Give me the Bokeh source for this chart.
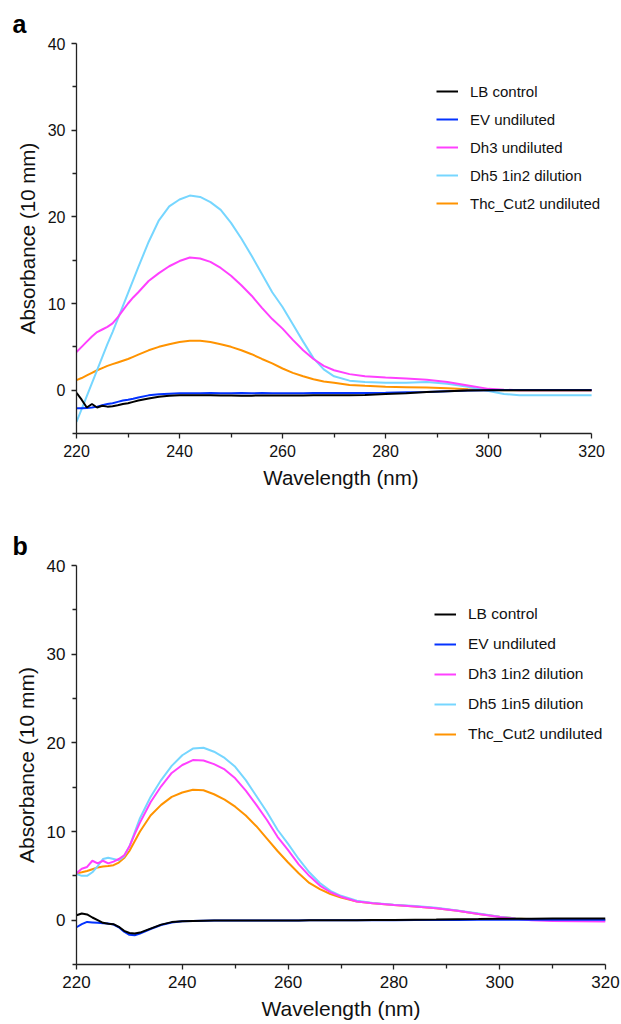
from bokeh.plotting import figure
from bokeh.models import (ColumnDataSource, Range1d, FixedTicker, Legend, LegendItem)
from bokeh.layouts import column
from bokeh.embed import file_html
from bokeh.resources import INLINE

# ---------------- data ----------------
wavelength = [220, 221, 222, 223, 224, 225, 226, 227, 228, 229, 230, 231, 232,
              234, 236, 238, 240, 242, 244, 246, 248, 250, 252, 254, 256, 258, 260,
              262, 264, 266, 268, 270,
              273, 276, 280, 284, 288, 292, 296, 300, 303, 306, 310, 315, 320]

# panel a
a_lb_control = [-0.3, -1.1, -2.0, -1.6, -2.0, -1.8, -1.9, -1.85, -1.75, -1.6, -1.5, -1.35, -1.2,
                -0.95, -0.75, -0.65, -0.6, -0.6, -0.6, -0.6, -0.62, -0.62, -0.63, -0.63, -0.62, -0.62, -0.62,
                -0.62, -0.62, -0.6, -0.6, -0.6,
                -0.58, -0.55, -0.45, -0.35, -0.22, -0.12, -0.05, 0.0, 0.0, 0.0, 0.0, 0.0, 0.0]
a_ev = [-2.1, -2.1, -2.05, -2.0, -1.9, -1.75, -1.6, -1.5, -1.35, -1.2, -1.1, -0.98, -0.85,
        -0.6, -0.48, -0.4, -0.37, -0.35, -0.35, -0.34, -0.35, -0.35, -0.34, -0.35, -0.34, -0.35, -0.35,
        -0.35, -0.35, -0.34, -0.34, -0.34,
        -0.33, -0.33, -0.3, -0.25, -0.2, -0.12, -0.05, 0.0, 0.02, 0.02, 0.02, 0.02, 0.02]
a_dh3 = [4.4, 5.0, 5.6, 6.2, 6.7, 7.0, 7.3, 7.7, 8.4, 9.2, 10.0, 10.7, 11.3,
         12.6, 13.5, 14.3, 14.9, 15.3, 15.2, 14.8, 14.1, 13.2, 12.1, 10.9, 9.5, 8.2, 7.1,
         5.8, 4.6, 3.6, 2.8, 2.3,
         1.85, 1.6, 1.45, 1.35, 1.2, 0.95, 0.55, 0.15, 0.05, 0.0, -0.02, -0.02, -0.02]
a_dh5 = [-3.65, -2.2, -0.7, 0.8, 2.3, 3.8, 5.3, 6.7, 8.2, 9.7, 11.2, 12.7, 14.2,
         17.1, 19.6, 21.2, 22.0, 22.45, 22.3, 21.7, 20.8, 19.3, 17.5, 15.5, 13.4, 11.3, 9.6,
         7.6, 5.6, 3.7, 2.4, 1.6,
         1.1, 0.95, 0.85, 0.85, 0.95, 0.75, 0.4, -0.1, -0.45, -0.58, -0.6, -0.6, -0.6]
a_thc = [1.15, 1.4, 1.7, 2.0, 2.3, 2.55, 2.8, 3.0, 3.2, 3.4, 3.6, 3.85, 4.1,
         4.6, 5.0, 5.3, 5.55, 5.7, 5.7, 5.55, 5.3, 5.0, 4.6, 4.15, 3.6, 3.1, 2.5,
         2.0, 1.6, 1.25, 1.0, 0.85,
         0.6, 0.5, 0.4, 0.35, 0.3, 0.22, 0.12, 0.05, 0.0, 0.0, 0.0, 0.0, 0.0]

# panel b
b_lb_control = [0.55, 0.75, 0.65, 0.3, 0.0, -0.3, -0.4, -0.45, -0.75, -1.2, -1.45, -1.5, -1.4,
                -0.95, -0.5, -0.22, -0.12, -0.08, -0.06, -0.05, -0.05, -0.05, -0.05, -0.04, -0.04, -0.04, -0.03,
                -0.03, -0.02, -0.02, -0.01, 0.0,
                0.0, 0.02, 0.03, 0.05, 0.07, 0.1, 0.12, 0.15, 0.16, 0.17, 0.18, 0.18, 0.18]
b_ev = [-0.8, -0.45, -0.2, -0.25, -0.3, -0.35, -0.38, -0.5, -0.8, -1.3, -1.65, -1.7, -1.5,
        -1.0, -0.55, -0.26, -0.12, -0.08, -0.06, -0.05, -0.05, -0.05, -0.05, -0.04, -0.04, -0.04, -0.03,
        -0.03, -0.02, -0.02, -0.02, -0.01,
        -0.01, 0.0, 0.0, 0.01, 0.02, 0.03, 0.04, 0.05, 0.05, 0.05, 0.05, 0.05, 0.05]
b_dh3 = [5.3, 5.8, 6.0, 6.7, 6.4, 6.7, 6.4, 6.6, 6.9, 7.3, 8.3, 9.7, 11.0,
         13.3, 15.1, 16.6, 17.5, 18.05, 18.0, 17.6, 17.0, 16.0, 14.6, 13.0, 11.3, 9.4, 7.9,
         6.3, 5.0, 3.9, 3.15, 2.65,
         2.1, 1.9, 1.7, 1.55, 1.35, 1.05, 0.7, 0.35, 0.15, 0.0, -0.1, -0.12, -0.15]
b_dh5 = [5.2, 5.0, 5.0, 5.4, 6.1, 6.9, 7.05, 6.9, 6.75, 7.2, 8.3, 9.9, 11.5,
         13.9, 15.8, 17.4, 18.6, 19.35, 19.45, 19.0, 18.3, 17.3, 15.8, 14.0, 12.2, 10.2, 8.6,
         6.9, 5.4, 4.2, 3.3, 2.75,
         2.2, 1.95, 1.75, 1.6, 1.4, 1.1, 0.75, 0.4, 0.2, 0.08, 0.0, -0.03, -0.04]
b_thc = [5.3, 5.4, 5.55, 5.75, 5.95, 6.05, 6.1, 6.2, 6.5, 7.0, 7.8, 8.9, 10.0,
         11.8, 13.0, 13.9, 14.4, 14.7, 14.65, 14.2, 13.6, 12.8, 11.8, 10.6, 9.2, 7.8, 6.5,
         5.3, 4.2, 3.5, 2.95, 2.55,
         2.1, 1.9, 1.7, 1.55, 1.35, 1.05, 0.7, 0.4, 0.2, 0.1, 0.02, 0.0, 0.0]

labels_a = ["LB control", "EV undiluted", "Dh3 undiluted", "Dh5 1in2 dilution", "Thc_Cut2 undiluted"]
labels_b = ["LB control", "EV undiluted", "Dh3 1in2 dilution", "Dh5 1in5 dilution", "Thc_Cut2 undiluted"]
colors = ["#000000", "#0433FF", "#FF40FF", "#76D6FF", "#FF9300"]

x_major = [220, 240, 260, 280, 300, 320]
x_minor = [230, 250, 270, 290, 310]
y_major = [0, 10, 20, 30, 40]
y_minor = [-5, 5, 15, 25, 35]

FONT = "Liberation Sans"


def make_panel(letter, series, labels, width, height, mb, x_end, tick_fs, title_fs, legend_fs,
               legend_loc, legend_spacing):
    left, right, top, bottom = mb
    p = figure(width=width, height=height, output_backend="svg", toolbar_location=None,
               x_range=Range1d(220, x_end), y_range=Range1d(-5, 40),
               min_border_left=left, min_border_right=right,
               min_border_top=top, min_border_bottom=bottom)
    p.outline_line_color = None
    p.xgrid.visible = False
    p.ygrid.visible = False
    p.background_fill_color = "white"
    p.border_fill_color = "white"

    p.title.text = letter
    p.title.align = "left"
    p.title.offset = -64
    p.title.standoff = 12
    p.title.text_font = FONT
    p.title.text_font_size = "25px"
    p.title.text_font_style = "bold"
    p.title.text_color = "#000000"

    p.xaxis.ticker = FixedTicker(ticks=x_major, minor_ticks=x_minor)
    p.yaxis.ticker = FixedTicker(ticks=y_major, minor_ticks=y_minor)
    p.xaxis.bounds = (220, 320)
    for ax in (p.xaxis, p.yaxis):
        ax.axis_line_color = "#222222"
        ax.axis_line_width = 1.3
        ax.major_tick_line_color = "#222222"
        ax.minor_tick_line_color = "#222222"
        ax.major_tick_line_width = 1.3
        ax.minor_tick_line_width = 1.3
        ax.major_tick_out = 5
        ax.major_tick_in = 0
        ax.minor_tick_out = 4
        ax.minor_tick_in = 0
        ax.major_label_text_font = FONT
        ax.major_label_text_font_size = f"{tick_fs}px"
        ax.major_label_text_color = "#111111"
        ax.axis_label_text_font = FONT
        ax.axis_label_text_font_size = f"{title_fs}px"
        ax.axis_label_text_font_style = "normal"
        ax.axis_label_text_color = "#111111"
    p.xaxis.axis_label = "Wavelength (nm)"
    p.yaxis.axis_label = "Absorbance (10 mm)"
    p.xaxis.major_label_standoff = 6
    p.yaxis.major_label_standoff = 6
    p.xaxis.axis_label_standoff = 6
    p.yaxis.axis_label_standoff = 6

    src = ColumnDataSource(dict(x=wavelength, s0=series[0], s1=series[1], s2=series[2],
                                s3=series[3], s4=series[4]))
    rends = {}
    for i in [4, 3, 2, 1, 0]:
        rends[i] = p.line("x", f"s{i}", source=src, line_color=colors[i], line_width=2)

    items = [LegendItem(label=labels[i], renderers=[rends[i]]) for i in range(5)]
    legend = Legend(items=items, location=legend_loc,
                    label_text_font=FONT, label_text_font_size=f"{legend_fs}px",
                    label_text_color="#111111",
                    glyph_width=22, glyph_height=20, label_height=20,
                    label_standoff=12, spacing=legend_spacing, padding=0, margin=0,
                    border_line_color=None, background_fill_alpha=0)
    p.add_layout(legend)
    return p


pa = make_panel("a", [a_lb_control, a_ev, a_dh3, a_dh5, a_thc], labels_a,
                621, 510, (75, 15, 43, 77), 322.7, 16, 20.5, 15, (360, 220), 8)
pb = make_panel("b", [b_lb_control, b_ev, b_dh3, b_dh5, b_thc], labels_b,
                621, 514, (76, 16, 55, 60), 320, 17, 21, 15.5, (358, 220), 10)

layout = column(pa, pb, spacing=0)
open("out.html", "w").write(file_html(layout, INLINE))
